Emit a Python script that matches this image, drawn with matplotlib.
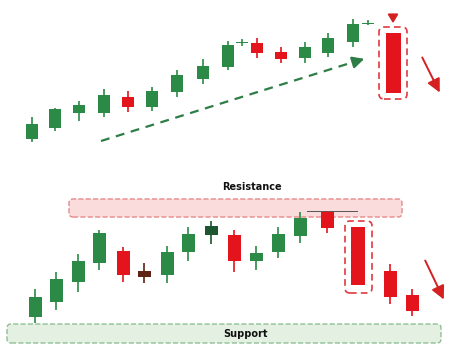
import matplotlib.pyplot as plt
from matplotlib.patches import FancyBboxPatch

# canvas units = pixels, y grows upward
W, H = 459, 359

GREEN = '#2b8a45'
RED = '#e3141b'

# --- top panel: uptrend then big bearish candle
top_x = [32, 55, 79, 104, 128, 152, 177, 203, 228, 242, 257, 281, 305, 328, 353, 368, 393]
top_open = [220, 231, 246, 246, 262, 252, 267, 280, 292, 316, 316, 307, 301, 306, 317, 335, 326]
top_close = [235, 250, 254, 264, 252, 268, 284, 293, 314, 316.5, 306, 300, 312, 321, 335, 335.5, 266]
top_high = [242, 251, 258, 270, 268, 272, 289, 300, 318, 320, 321, 312, 317, 326, 340, 339, 326]
top_low = [217, 228, 238, 242, 247, 248, 262, 275, 289, 313, 301, 296, 296, 302, 312, 334, 266]
top_width = [12] * 16 + [15]

# --- bottom panel: range between support and resistance
bot_x = [35, 56, 78, 99, 123, 144, 167, 188, 211, 234, 256, 278, 300, 327, 358, 390, 412]
bot_open = [42, 57, 77, 96, 108, 88, 84, 107, 124, 124, 98, 107, 123, 147, 132, 88, 64]
bot_close = [62, 80, 98, 126, 84, 82, 107, 125, 133, 98, 106, 125, 141, 131, 74, 62, 48]
bot_high = [70, 87, 105, 129, 112, 96, 113, 132, 138, 129, 113, 132, 147, 148, 132, 95, 70]
bot_low = [36, 49, 67, 89, 77, 76, 76, 98, 115, 87, 89, 101, 116, 126, 74, 55, 43]
bot_width = [13] * 14 + [14, 13, 13]
bot_special = {5: '#5e2315', 8: '#1d5530'}

resistance = (69, 142, 333, 18)   # x, y, w, h
support = (7, 16, 434, 19)


def candles(ax, xs, o, c, h, l, widths, special=None):
    special = special or {}
    cols = [special.get(i, GREEN if c[i] >= o[i] else RED) for i in range(len(xs))]
    ax.vlines(xs, l, h, colors=cols, lw=1.2, zorder=3)
    bottoms = [min(a, b) for a, b in zip(o, c)]
    heights = [max(abs(b - a), 1.3) for a, b in zip(o, c)]
    ax.bar(xs, heights, width=widths, bottom=bottoms, color=cols, zorder=4)


fig = plt.figure(figsize=(W / 100, H / 100), dpi=100)
ax = fig.add_axes([0, 0, 1, 1])
ax.set_xlim(0, W)
ax.set_ylim(0, H)
ax.axis('off')

candles(ax, top_x, top_open, top_close, top_high, top_low, top_width)
candles(ax, bot_x, bot_open, bot_close, bot_high, bot_low, bot_width, bot_special)

# zones
rx, ry, rw, rh = resistance
ax.add_patch(FancyBboxPatch((rx, ry), rw, rh, boxstyle='round,pad=0,rounding_size=4',
                            fc='#fbdcdc', ec='#e88a8a', lw=1, ls='--', zorder=1))
sx, sy, sw, sh = support
ax.add_patch(FancyBboxPatch((sx, sy), sw, sh, boxstyle='round,pad=0,rounding_size=4',
                            fc='#e4f1e2', ec='#8fbf94', lw=1, ls='--', zorder=1))
ax.text(252, 172, 'Resistance', ha='center', va='center',
        fontsize=7, fontweight='bold', color='#111')
ax.text(246, sy + sh / 2 - 0.5, 'Support', ha='center', va='center',
        fontsize=7, fontweight='bold', color='#111')

# thin line touching resistance
ax.plot([307, 357], [148, 148], color='#555', lw=0.7, zorder=2)

# dashed highlight boxes around the big red candles
for bx, by, bw, bh in [(379, 260, 28, 72), (345, 66, 27, 72)]:
    ax.add_patch(FancyBboxPatch((bx, by), bw, bh, boxstyle='round,pad=0,rounding_size=5',
                                fc='none', ec='#e0393e', lw=1.2, ls=(0, (4, 2.5)), zorder=5))

# green dashed trend arrow
ax.plot([101, 360], [218, 299], color='#2e7d46', lw=1.6, ls=(0, (4, 3)), zorder=2)
ax.annotate('', xy=(367, 301), xytext=(356, 297.6),
            arrowprops=dict(arrowstyle='-|>,head_length=0.7,head_width=0.35',
                            color='#2e7d46', lw=1.6))

# red arrows
arrow = dict(arrowstyle='-|>,head_length=0.8,head_width=0.4', color='#d42020', lw=1.4)
ax.annotate('', xy=(441, 264), xytext=(421, 304), arrowprops=arrow)
ax.annotate('', xy=(445, 57), xytext=(424, 101), arrowprops=arrow)
ax.annotate('', xy=(393, 333), xytext=(393, 347),
            arrowprops=dict(arrowstyle='-|>,head_length=0.5,head_width=0.3',
                            color='#d42020', lw=1.4))

fig.savefig('out.png', dpi=100, facecolor='white')
